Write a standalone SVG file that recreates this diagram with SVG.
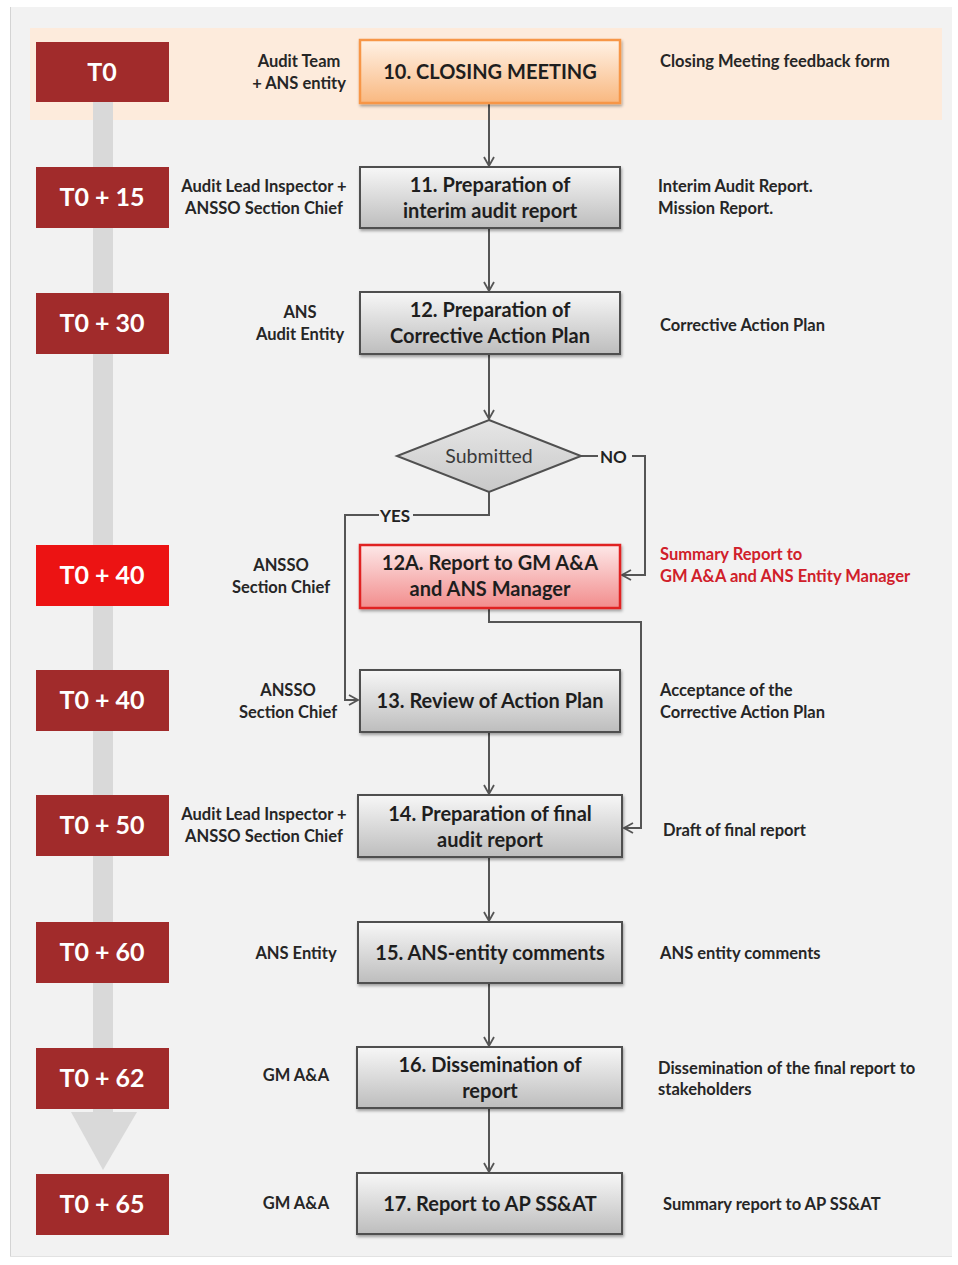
<svg xmlns="http://www.w3.org/2000/svg" width="958" height="1265" viewBox="0 0 958 1265">
  <style>
    .t { font-family: Lato, "Liberation Sans", sans-serif; font-weight: bold; }
    .time { fill: #a12b2b; }
    .time-hot { fill: #ec1313; }
    .time-txt { font-size: 25px; fill: #ffffff; text-anchor: middle; }
    .role { font-size: 16.5px; fill: #262626; text-anchor: middle; }
    .doc { font-size: 16.5px; fill: #262626; }
    .doc-red { fill: #d0202a; }
    .box { fill: url(#gGrey); stroke: #505050; stroke-width: 2; filter: url(#shadow); }
    .box-txt { font-size: 20px; fill: #1e1e1e; text-anchor: middle; }
    .conn { fill: none; stroke: #555555; stroke-width: 2; }
    .lbl { font-size: 17px; fill: #222222; }
  </style>
  <defs>
    <linearGradient id="gGrey" x1="0" y1="0" x2="0" y2="1">
      <stop offset="0" stop-color="#f7f7f7"/>
      <stop offset="1" stop-color="#bdbdbd"/>
    </linearGradient>
    <linearGradient id="gOrange" x1="0" y1="0" x2="0" y2="1">
      <stop offset="0" stop-color="#fff2e6"/>
      <stop offset="1" stop-color="#f9b880"/>
    </linearGradient>
    <linearGradient id="gRed" x1="0" y1="0" x2="0" y2="1">
      <stop offset="0" stop-color="#fde8e8"/>
      <stop offset="1" stop-color="#f28c8c"/>
    </linearGradient>
    <linearGradient id="gDiamond" x1="0" y1="0" x2="0" y2="1">
      <stop offset="0" stop-color="#e6e6e6"/>
      <stop offset="1" stop-color="#c8c8c8"/>
    </linearGradient>
    <filter id="shadow" x="-10%" y="-20%" width="120%" height="150%">
      <feDropShadow dx="1" dy="2" stdDeviation="1.5" flood-color="#000000" flood-opacity="0.35"/>
    </filter>
    <marker id="arr" markerWidth="12" markerHeight="12" refX="10" refY="6" orient="auto" markerUnits="userSpaceOnUse">
      <path d="M1,1 L10,6 L1,11" fill="none" stroke="#555555" stroke-width="1.8"/>
    </marker>
  </defs>

  <!-- page and panel -->
  <rect x="0" y="0" width="958" height="1265" fill="#ffffff"/>
  <rect x="10" y="7" width="942" height="1250" fill="#f2f2f2"/>
  <line x1="10.5" y1="7" x2="10.5" y2="1257" stroke="#d4d4d4" stroke-width="1"/>
  <line x1="10" y1="1256.5" x2="952" y2="1256.5" stroke="#e2e2e2" stroke-width="1"/>

  <!-- highlighted first row -->
  <rect x="30" y="28" width="912" height="92" fill="#fdebdc"/>

  <!-- timeline arrow -->
  <g id="timeline">
    <rect x="93" y="100" width="20" height="1013" fill="#d9d9d9"/>
    <polygon points="71,1112 137,1112 103,1170" fill="#d9d9d9"/>
  </g>

  <!-- time markers -->
  <g id="time-markers" class="t">
    <g id="t0"><rect class="time" x="36" y="42" width="133" height="60"/><text class="time-txt" x="102" y="81">T0</text></g>
    <g id="t15"><rect class="time" x="36" y="167" width="133" height="61"/><text class="time-txt" x="102" y="206">T0 + 15</text></g>
    <g id="t30"><rect class="time" x="36" y="293" width="133" height="61"/><text class="time-txt" x="102" y="332">T0 + 30</text></g>
    <g id="t40a"><rect class="time-hot" x="36" y="545" width="133" height="61"/><text class="time-txt" x="102" y="584">T0 + 40</text></g>
    <g id="t40b"><rect class="time" x="36" y="670" width="133" height="61"/><text class="time-txt" x="102" y="709">T0 + 40</text></g>
    <g id="t50"><rect class="time" x="36" y="795" width="133" height="61"/><text class="time-txt" x="102" y="834">T0 + 50</text></g>
    <g id="t60"><rect class="time" x="36" y="922" width="133" height="61"/><text class="time-txt" x="102" y="961">T0 + 60</text></g>
    <g id="t62"><rect class="time" x="36" y="1048" width="133" height="61"/><text class="time-txt" x="102" y="1087">T0 + 62</text></g>
    <g id="t65"><rect class="time" x="36" y="1174" width="133" height="61"/><text class="time-txt" x="102" y="1213">T0 + 65</text></g>
  </g>

  <!-- responsible parties -->
  <g id="roles" class="t">
    <text class="role" x="299" y="67">Audit Team</text>
    <text class="role" x="299" y="89">+ ANS entity</text>
    <text class="role" x="264" y="192">Audit Lead Inspector +</text>
    <text class="role" x="264" y="214">ANSSO Section Chief</text>
    <text class="role" x="300" y="318">ANS</text>
    <text class="role" x="300" y="340">Audit Entity</text>
    <text class="role" x="281" y="571">ANSSO</text>
    <text class="role" x="281" y="593">Section Chief</text>
    <text class="role" x="288" y="696">ANSSO</text>
    <text class="role" x="288" y="718">Section Chief</text>
    <text class="role" x="264" y="820">Audit Lead Inspector +</text>
    <text class="role" x="264" y="842">ANSSO Section Chief</text>
    <text class="role" x="296" y="959">ANS Entity</text>
    <text class="role" x="296" y="1081">GM A&amp;A</text>
    <text class="role" x="296" y="1209">GM A&amp;A</text>
  </g>

  <!-- outputs -->
  <g id="outputs" class="t">
    <text class="doc" x="660" y="67">Closing Meeting feedback form</text>
    <text class="doc" x="658" y="192">Interim Audit Report.</text>
    <text class="doc" x="658" y="214">Mission Report.</text>
    <text class="doc" x="660" y="331">Corrective Action Plan</text>
    <text class="doc doc-red" x="660" y="560">Summary Report to</text>
    <text class="doc doc-red" x="660" y="582">GM A&amp;A and ANS Entity Manager</text>
    <text class="doc" x="660" y="696">Acceptance of the</text>
    <text class="doc" x="660" y="718">Corrective Action Plan</text>
    <text class="doc" x="663" y="836">Draft of final report</text>
    <text class="doc" x="660" y="959">ANS entity comments</text>
    <text class="doc" x="658" y="1074">Dissemination of the final report to</text>
    <text class="doc" x="658" y="1095">stakeholders</text>
    <text class="doc" x="663" y="1210">Summary report to AP SS&amp;AT</text>
  </g>

  <!-- connectors -->
  <g id="connectors">
    <path class="conn" d="M489,103 V166" marker-end="url(#arr)"/>
    <path class="conn" d="M489,228 V291" marker-end="url(#arr)"/>
    <path class="conn" d="M489,354 V419" marker-end="url(#arr)"/>
    <path class="conn" d="M489,492 V515 H345 V700 H358" marker-end="url(#arr)"/>
    <path class="conn" d="M581,456 H645 V575 H622" marker-end="url(#arr)"/>
    <path class="conn" d="M489,608 V622 H641 V828 H624" marker-end="url(#arr)"/>
    <path class="conn" d="M489,732 V794" marker-end="url(#arr)"/>
    <path class="conn" d="M489,857 V921" marker-end="url(#arr)"/>
    <path class="conn" d="M489,983 V1046" marker-end="url(#arr)"/>
    <path class="conn" d="M489,1108 V1172" marker-end="url(#arr)"/>
    <rect x="379" y="506" width="34" height="18" fill="#f2f2f2"/>
    <text class="t lbl" x="380" y="522">YES</text>
    <rect x="598" y="447" width="34" height="18" fill="#f2f2f2"/>
    <text class="t lbl" x="600" y="463">NO</text>
  </g>

  <!-- process steps -->
  <g id="step10" class="t">
    <rect x="360" y="40" width="260" height="63" fill="url(#gOrange)" stroke="#f79646" stroke-width="2.5" filter="url(#shadow)"/>
    <text class="box-txt" x="490" y="79" font-size="19">10. CLOSING MEETING</text>
  </g>
  <g id="step11" class="t">
    <rect class="box" x="360" y="167" width="260" height="61"/>
    <text class="box-txt" x="490" y="192">11. Preparation of</text>
    <text class="box-txt" x="490" y="218">interim audit report</text>
  </g>
  <g id="step12" class="t">
    <rect class="box" x="360" y="292" width="260" height="62"/>
    <text class="box-txt" x="490" y="317">12. Preparation of</text>
    <text class="box-txt" x="490" y="343">Corrective Action Plan</text>
  </g>
  <g id="decision" class="t">
    <polygon points="489,420 581,456 489,492 397,456" fill="url(#gDiamond)" stroke="#505050" stroke-width="2"/>
    <text x="489" y="463" font-size="19.5" font-weight="normal" fill="#3a3a3a" text-anchor="middle">Submitted</text>
  </g>
  <g id="step12a" class="t">
    <rect x="360" y="545" width="260" height="63" fill="url(#gRed)" stroke="#e02424" stroke-width="2.5" filter="url(#shadow)"/>
    <text class="box-txt" x="490" y="570">12A. Report to GM A&amp;A</text>
    <text class="box-txt" x="490" y="596">and ANS Manager</text>
  </g>
  <g id="step13" class="t">
    <rect class="box" x="360" y="670" width="260" height="62"/>
    <text class="box-txt" x="490" y="708">13. Review of Action Plan</text>
  </g>
  <g id="step14" class="t">
    <rect class="box" x="358" y="795" width="264" height="62"/>
    <text class="box-txt" x="490" y="821">14. Preparation of final</text>
    <text class="box-txt" x="490" y="847">audit report</text>
  </g>
  <g id="step15" class="t">
    <rect class="box" x="358" y="922" width="264" height="61"/>
    <text class="box-txt" x="490" y="960">15. ANS-entity comments</text>
  </g>
  <g id="step16" class="t">
    <rect class="box" x="357" y="1047" width="265" height="61"/>
    <text class="box-txt" x="490" y="1072">16. Dissemination of</text>
    <text class="box-txt" x="490" y="1098">report</text>
  </g>
  <g id="step17" class="t">
    <rect class="box" x="357" y="1173" width="265" height="61"/>
    <text class="box-txt" x="490" y="1211">17. Report to AP SS&amp;AT</text>
  </g>
</svg>
